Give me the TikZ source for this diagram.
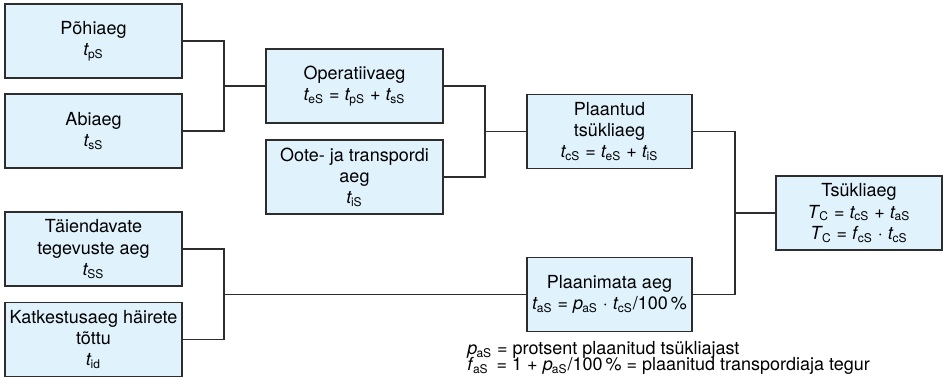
\documentclass[tikz,border=0pt]{standalone}
\usepackage{fontspec}
\setmainfont{TeX Gyre Heros}
\usepackage{tikz}

\definecolor{boxfill}{RGB}{224,242,252}
\definecolor{boxline}{RGB}{45,45,45}
% italic symbol with upright index
\newcommand{\tsub}[2]{\textit{#1}\kern-0.05em\textsubscript{#2}}

\begin{document}
\begin{tikzpicture}[x=0.5pt, y=-0.5pt,
    box/.style = {draw=boxline, fill=boxfill, line width=0.8pt, minimum width=88.5pt,
                  minimum height=37pt, align=center, inner sep=1pt,
                  font=\fontsize{9}{10.6}\selectfont},
    link/.style = {draw=boxline, line width=0.6pt},
    note/.style = {anchor=base west, inner sep=0pt, font=\fontsize{9}{10}\selectfont}]
    \useasboundingbox (0,0) rectangle (944,384);

    % first column
    \node[box] (poh) at (93.5,41)   {Põhiaeg\\\tsub{t}{pS}};
    \node[box] (abi) at (93.5,131)  {Abiaeg\\\tsub{t}{sS}};
    \node[box] (tai) at (93.5,249)  {Täiendavate\\tegevuste aeg\\\tsub{t}{SS}};
    \node[box] (kat) at (93.5,339.5) {Katkestusaeg häirete\\tõttu\\\tsub{t}{id}};

    % second column
    \node[box] (ope) at (354.5,86)  {Operatiivaeg\\\tsub{t}{eS} = \tsub{t}{pS} + \tsub{t}{sS}};
    \node[box] (oot) at (354.5,177) {Oote- ja transpordi\\aeg\\\tsub{t}{iS}};

    % third column
    \node[box, minimum width=82.5pt] (pla) at (609.5,131.5)
        {Plaantud\\tsükliaeg\\\tsub{t}{cS} = \tsub{t}{eS} + \tsub{t}{iS}};
    \node[box, minimum width=82.5pt] (pln) at (609.5,294.5)
        {Plaanimata aeg\\\tsub{t}{aS} = \tsub{p}{aS} · \tsub{t}{cS}/100\,\%};

    % result
    \node[box, minimum width=83pt] (tsy) at (859,213)
        {Tsükliaeg\\\tsub{T}{C} = \tsub{t}{cS} + \tsub{t}{aS}\\\tsub{T}{C} = \tsub{f}{cS} · \tsub{t}{cS}};

    % joints
    \coordinate (j1) at (224,86);
    \coordinate (j2) at (224,294.5);
    \coordinate (j3) at (485,131.5);
    \coordinate (j4) at (735,213);

    \draw[link] (poh.east) -| (j1) |- (abi.east);
    \draw[link] (j1) -- (ope.west);
    \draw[link] (tai.east) -| (j2) |- (kat.east);
    \draw[link] (j2) -- (pln.west);
    \draw[link] (ope.east) -| (j3) |- (oot.east);
    \draw[link] (j3) -- (pla.west);
    \draw[link] (pla.east) -| (j4) |- (pln.east);
    \draw[link] (j4) -- (tsy.west);

    % legend
    \node[note] (note1) at (467,355) {\tsub{p}{aS} = protsent plaanitud tsükliajast};
    \node[note] (note2) at (467,371)
        {\tsub{f}{aS}\, = 1 + \tsub{p}{aS}/100\,\% = plaanitud transpordiaja tegur};
\end{tikzpicture}
\end{document}
